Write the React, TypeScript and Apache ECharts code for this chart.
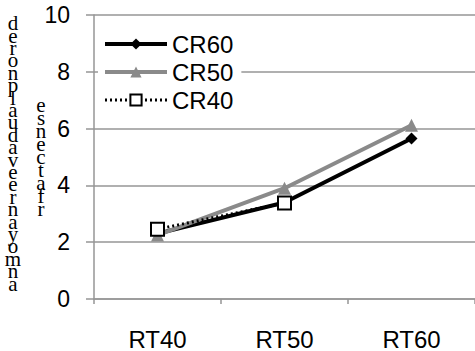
import React, { useEffect, useRef } from "react";
import * as echarts from "echarts";

const categories = ["RT40", "RT50", "RT60"];
const cr60 = [2.3, 3.4, 5.65];
const cr50 = [2.25, 3.9, 6.12];
const cr40: (number | null)[] = [2.46, 3.38, null];
const yTicks = { min: 0, max: 10, interval: 2 };
const axisTitle1 = ["d", "e", "r", "o", "n", "p", "l", "a", "u", "d", "a", "v", "e", "e", "r", "n", "a", "y", "o", "m", "n", "a"];
const axisTitle2 = ["e", "s", "n", "e", "c", "t", "a", "f", "r"];

export default function App() {
  const ref = useRef<HTMLDivElement>(null);
  useEffect(() => {
    if (!ref.current) return;
    const chart = echarts.init(ref.current, undefined, { renderer: "svg" });
    const font = "Liberation Sans, Arial, sans-serif";
    const gridColor = "#969696";
    const gray = "#8a8a8a";
    chart.setOption({
      animation: false,
      backgroundColor: "#ffffff",
      textStyle: { fontFamily: font },
      grid: { left: 94, right: -1, top: 15, bottom: 52, containLabel: false },
      legend: {
        orient: "vertical",
        left: 98,
        top: 28,
        padding: [4, 8, 4, 5],
        backgroundColor: "#ffffff",
        itemWidth: 62,
        itemHeight: 14,
        itemGap: 4,
        textStyle: { fontSize: 24, color: "#000", fontFamily: font },
        data: [
          { name: "CR60", lineStyle: { color: "#000", width: 4 }, itemStyle: { color: "#000" } },
          { name: "CR50", lineStyle: { color: gray, width: 4 }, itemStyle: { color: gray } },
          {
            name: "CR40",
            lineStyle: { color: "#000", width: 3, type: [2, 3] },
            itemStyle: { color: "#fff", borderColor: "#000", borderWidth: 2 },
          },
        ],
      },
      xAxis: {
        type: "category",
        data: categories,
        boundaryGap: true,
        axisLine: { lineStyle: { color: gridColor, width: 1.5 } },
        axisTick: { show: true, length: 5, lineStyle: { color: gridColor, width: 1.5 } },
        axisLabel: { fontSize: 24, color: "#000", margin: 28, fontFamily: font },
      },
      yAxis: {
        type: "value",
        min: yTicks.min,
        max: yTicks.max,
        interval: yTicks.interval,
        axisLine: { show: true, lineStyle: { color: gridColor, width: 1.5 } },
        axisTick: { show: true, length: 8, lineStyle: { color: gridColor, width: 1.5 } },
        splitLine: { show: true, lineStyle: { color: gridColor, width: 1.5 } },
        axisLabel: { fontSize: 23, color: "#000", margin: 24, fontFamily: font },
      },
      series: [
        {
          name: "CR60",
          type: "line",
          data: cr60,
          symbol: "diamond",
          symbolSize: 12,
          lineStyle: { color: "#000", width: 4 },
          itemStyle: { color: "#000" },
          z: 2,
        },
        {
          name: "CR50",
          type: "line",
          data: cr50,
          symbol: "triangle",
          symbolSize: 13,
          lineStyle: { color: gray, width: 4 },
          itemStyle: { color: gray },
          z: 3,
        },
        {
          name: "CR40",
          type: "line",
          data: cr40,
          symbol: "rect",
          symbolSize: 13,
          lineStyle: { color: "#000", width: 3, type: [2, 3] },
          itemStyle: { color: "#fff", borderColor: "#000", borderWidth: 2 },
          z: 4,
        },
      ],
      graphic: [
        {
          type: "text",
          x: 13,
          y: 17,
          style: {
            text: axisTitle1.join("\n"),
            fontSize: 21,
            fontFamily: "Liberation Serif",
            lineHeight: 12.4,
            fill: "#000",
            align: "center",
            verticalAlign: "top",
          },
        },
        {
          type: "text",
          x: 41,
          y: 98,
          style: {
            text: axisTitle2.join("\n"),
            fontSize: 21,
            fontFamily: "Liberation Serif",
            lineHeight: 13,
            fill: "#000",
            align: "center",
            verticalAlign: "top",
          },
        },
      ],
    });
    return () => chart.dispose();
  }, []);
  return <div ref={ref} style={{ width: 475, height: 351, position: "absolute", left: 0, top: 0 }} />;
}
